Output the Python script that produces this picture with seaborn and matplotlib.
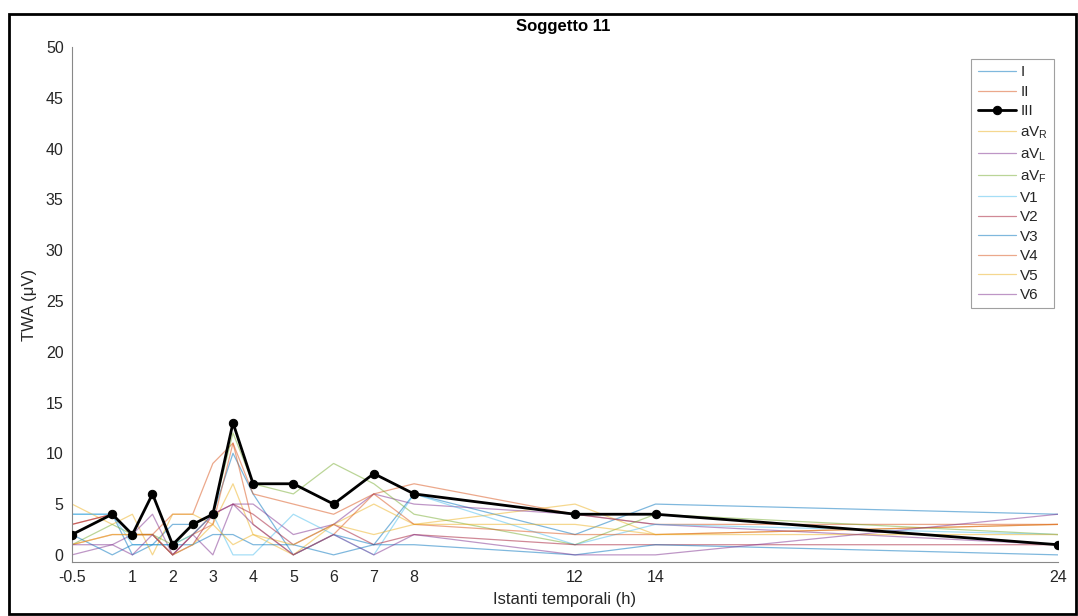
import matplotlib
matplotlib.use("Agg")
import matplotlib.pyplot as plt
import seaborn as sns
import pandas as pd
from matplotlib.patches import Rectangle

# istanti temporali (h)
t = [-0.5, 0.5, 1, 1.5, 2, 2.5, 3, 3.5, 4, 5, 6, 7, 8, 12, 14, 24]
xticks = [-0.5, 1, 2, 3, 4, 5, 6, 7, 8, 12, 14, 24]
xticklabels = ['-0.5', '1', '2', '3', '4', '5', '6', '7', '8', '12', '14', '24']

# TWA per derivazione (µV)
lead_I   = [4, 4, 0, 1, 3, 3, 4, 10, 6, 0, 2, 1, 6, 2, 5, 4]
lead_II  = [3, 4, 2, 2, 4, 4, 9, 11, 6, 5, 4, 6, 7, 4, 3, 3]
lead_III = [2, 4, 2, 6, 1, 3, 4, 13, 7, 7, 5, 8, 6, 4, 4, 1]
lead_aVR = [5, 3, 4, 0, 4, 4, 3, 7, 2, 0, 3, 5, 3, 5, 2, 3]
lead_aVL = [0, 1, 2, 4, 0, 2, 0, 5, 5, 2, 3, 6, 5, 4, 3, 1]
lead_aVF = [1, 3, 2, 2, 1, 2, 4, 12, 7, 6, 9, 7, 4, 1, 4, 2]
lead_V1  = [4, 4, 1, 1, 1, 2, 4, 0, 0, 4, 2, 0, 6, 1, 3, 2]
lead_V2  = [3, 4, 2, 2, 0, 1, 4, 5, 4, 1, 3, 1, 2, 1, 1, 1]
lead_V3  = [2, 0, 1, 1, 1, 1, 2, 2, 1, 1, 0, 1, 1, 0, 1, 0]
lead_V4  = [1, 2, 2, 2, 0, 2, 3, 11, 3, 0, 2, 6, 3, 2, 2, 3]
lead_V5  = [1, 2, 2, 2, 0, 1, 3, 1, 2, 1, 3, 2, 3, 3, 2, 2]
lead_V6  = [1, 1, 0, 2, 0, 2, 4, 5, 3, 0, 2, 0, 2, 0, 0, 4]

names = ['I', 'II', 'III', 'aV$_\\mathregular{R}$', 'aV$_\\mathregular{L}$', 'aV$_\\mathregular{F}$',
         'V1', 'V2', 'V3', 'V4', 'V5', 'V6']
series = [lead_I, lead_II, lead_III, lead_aVR, lead_aVL, lead_aVF,
          lead_V1, lead_V2, lead_V3, lead_V4, lead_V5, lead_V6]

# colori di default MATLAB
mcol = ['#0072BD', '#D95319', '#EDB120', '#7E2F8E', '#77AC30', '#4DBEEE', '#A2142F']
colors = [mcol[0], mcol[1], 'black', mcol[2], mcol[3], mcol[4],
          mcol[5], mcol[6], mcol[0], mcol[1], mcol[2], mcol[3]]

sns.set_style("white")
plt.rcParams['font.family'] = ['Liberation Sans', 'DejaVu Sans']
plt.rcParams['mathtext.fontset'] = 'custom'
plt.rcParams['mathtext.rm'] = 'Liberation Sans'

fig = plt.figure(figsize=(10.78, 6.16), dpi=100)
ax = fig.add_axes([0.0668, 0.0877, 0.9146, 0.836])

for name, vals, c in zip(names, series, colors):
    df = pd.DataFrame({'t': t, 'twa': vals})
    if name == 'III':
        sns.lineplot(data=df, x='t', y='twa', ax=ax, color='black', linewidth=2,
                     marker='o', markersize=6, markeredgecolor='black', label=name, zorder=5)
    else:
        sns.lineplot(data=df, x='t', y='twa', ax=ax, color=c, linewidth=0.9,
                     alpha=0.5, label=name)

ax.set_xlim(-0.5, 24)
ax.set_ylim(-0.7, 50)
ax.set_xticks(xticks)
ax.set_xticklabels(xticklabels)
ax.set_yticks(range(0, 51, 5))
ax.tick_params(direction='in', length=6, width=0.8, color='#888888', labelsize=11.5,
               labelcolor='#262626', pad=6)
for s in ['top', 'right']:
    ax.spines[s].set_visible(False)
for s in ['left', 'bottom']:
    ax.spines[s].set_color('#888888')
    ax.spines[s].set_linewidth(0.8)

ax.set_xlabel('Istanti temporali (h)', fontsize=12, color='#262626', labelpad=5)
ax.set_ylabel('TWA (μV)', fontsize=12, color='#262626', labelpad=6)
fig.text(0.522, 0.957, 'Soggetto 11', ha='center', va='center', fontsize=12,
         fontweight='bold', color='black')

leg = ax.legend(loc='upper right', bbox_to_anchor=(0.9995, 0.982), fontsize=11,
                frameon=True, fancybox=False, handlelength=2.5, handletextpad=0.3,
                labelspacing=0.36, borderpad=0.4, borderaxespad=0.2)
leg.get_frame().set_edgecolor('#888888')
leg.get_frame().set_linewidth(0.8)
for h in leg.get_lines():
    if h.get_color() != 'black':
        h.set_alpha(0.5)

fig.patches.append(Rectangle((0.008, 0.003), 0.99, 0.975, transform=fig.transFigure,
                             fill=False, edgecolor='black', linewidth=2))

fig.savefig('out.png', dpi=100)
